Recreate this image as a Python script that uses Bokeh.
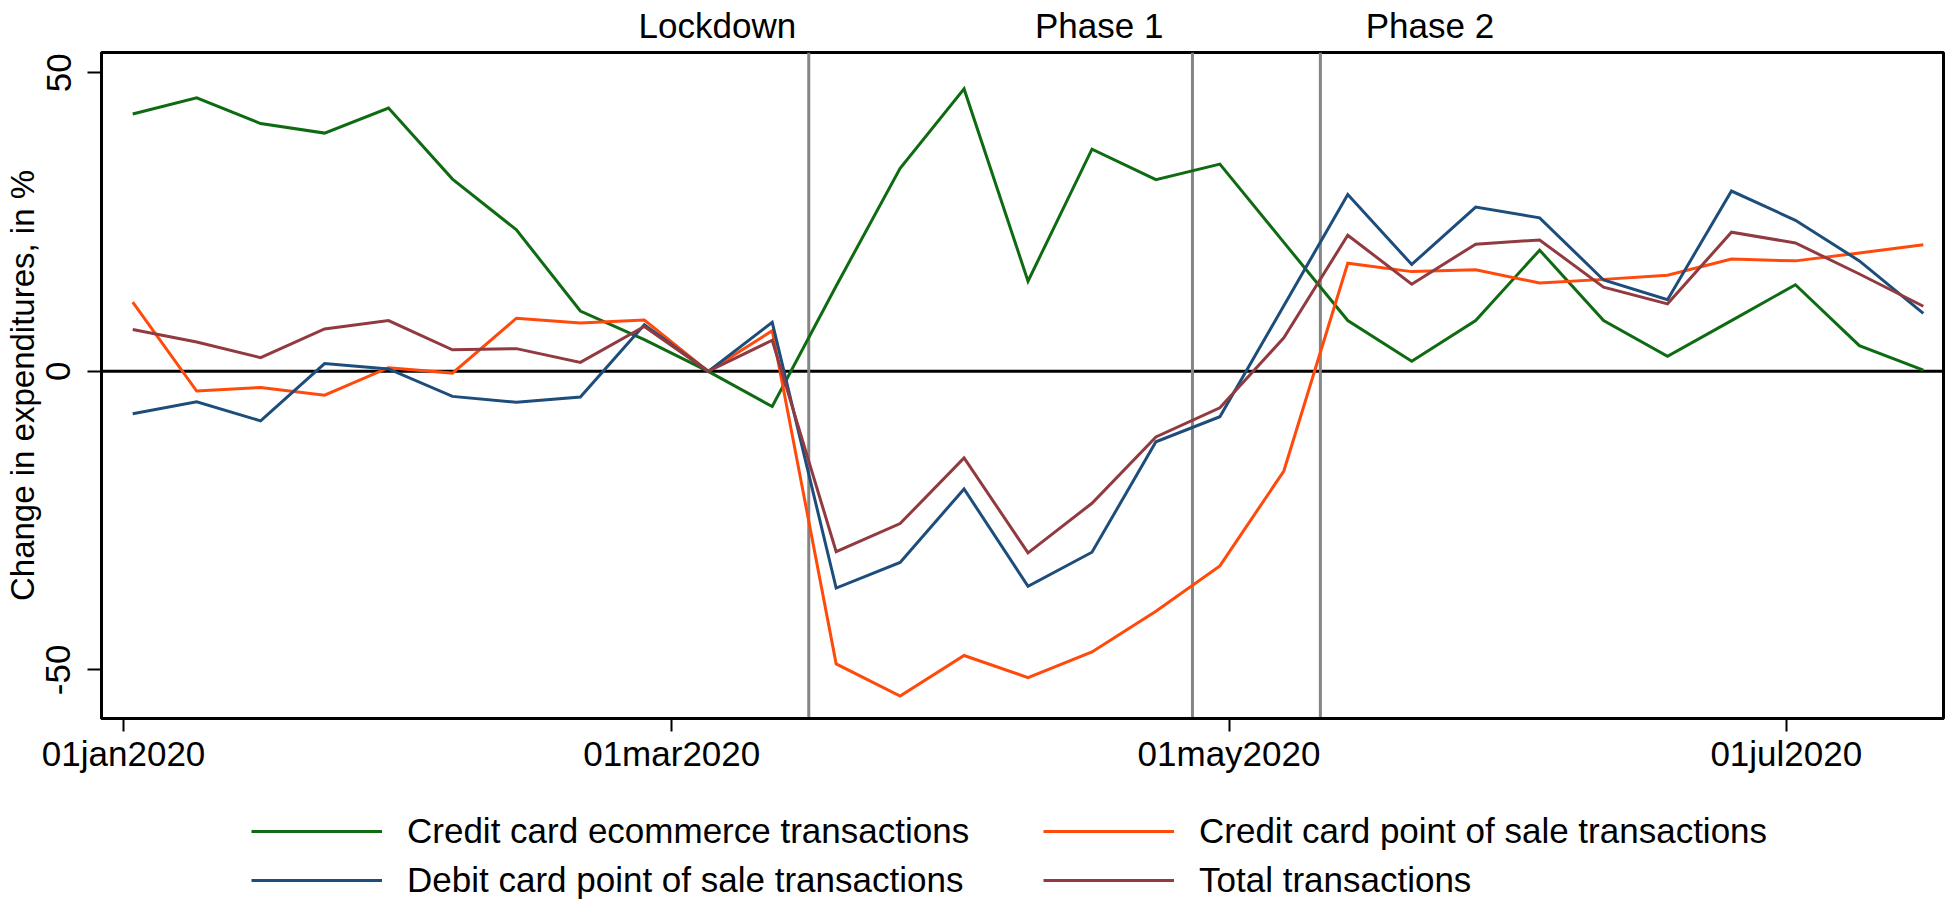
import pandas as pd
from bokeh.plotting import figure
from bokeh.layouts import column
from bokeh.models import (Span, Legend, LegendItem, FixedTicker,
                          CustomJSTickFormatter, Range1d)
from bokeh.core.properties import value
from bokeh.embed import file_html
from bokeh.resources import INLINE

# ---------------- data ----------------
dates = ["2020-01-02", "2020-01-09", "2020-01-16", "2020-01-23", "2020-01-30",
         "2020-02-06", "2020-02-13", "2020-02-20", "2020-02-27",
         "2020-03-05", "2020-03-12", "2020-03-19", "2020-03-26",
         "2020-04-02", "2020-04-09", "2020-04-16", "2020-04-23", "2020-04-30",
         "2020-05-07", "2020-05-14", "2020-05-21", "2020-05-28",
         "2020-06-04", "2020-06-11", "2020-06-18", "2020-06-25",
         "2020-07-02", "2020-07-09", "2020-07-16"]

credit_ecommerce = [43.1, 45.8, 41.5, 39.9, 44.1, 32.2, 23.7, 10.1, 5.3,
                    0.0, -5.9, 14.3, 34.0, 47.3, 15.1, 37.2, 32.1, 34.7,
                    21.6, 8.5, 1.7, 8.5, 20.3, 8.5, 2.5, 8.5, 14.5, 4.3, 0.2]

credit_pos = [11.6, -3.3, -2.7, -4.0, 0.6, -0.3, 8.9, 8.1, 8.6,
              0.0, 6.8, -49.0, -54.4, -47.6, -51.3, -47.0, -40.2, -32.6,
              -16.7, 18.1, 16.7, 17.0, 14.8, 15.4, 16.1, 18.8, 18.5, 19.8, 21.2]

debit_pos = [-7.1, -5.1, -8.3, 1.3, 0.4, -4.2, -5.2, -4.3, 7.8,
             0.0, 8.2, -36.3, -32.0, -19.7, -36.0, -30.3, -11.8, -7.6,
             11.0, 29.6, 17.9, 27.5, 25.7, 15.3, 12.0, 30.2, 25.3, 18.5, 9.7]

total = [7.0, 4.9, 2.3, 7.1, 8.5, 3.6, 3.8, 1.5, 7.5,
         0.0, 5.2, -30.2, -25.5, -14.5, -30.4, -22.1, -11.0, -6.1,
         5.6, 22.8, 14.6, 21.3, 22.0, 14.1, 11.3, 23.3, 21.5, 16.3, 10.9]

series_names = ["Credit card ecommerce transactions",
                "Credit card point of sale transactions",
                "Debit card point of sale transactions",
                "Total transactions"]

event_names = ["Lockdown", "Phase 1", "Phase 2"]
event_dates = ["2020-03-16", "2020-04-27", "2020-05-11"]

x_tick_dates = ["2020-01-01", "2020-03-01", "2020-05-01", "2020-07-01"]
x_tick_labels = ["01jan2020", "01mar2020", "01may2020", "01jul2020"]
y_tick_values = [-50, 0, 50]
y_tick_labels = ["-50", "0", "50"]

# ---------------- styling ----------------
FONT = "Liberation Sans"
FS = "35px"
colors = ["#0f6b12", "#ff4a0c", "#1d4e7b", "#913a40"]
series = [credit_ecommerce, credit_pos, debit_pos, total]


def ms(s):
    return pd.Timestamp(s).value // 10**6


x = pd.to_datetime(dates)
xr = Range1d(pd.Timestamp("2019-12-29 14:00"), pd.Timestamp("2020-07-18 05:00"))

# ---------------- main plot ----------------
p = figure(width=1946, height=725, x_axis_type="datetime",
           output_backend="svg", toolbar_location=None,
           x_range=xr, y_range=Range1d(-58.15, 53.4),
           min_border_left=96, min_border_right=3,
           min_border_top=2, min_border_bottom=55)

p.background_fill_color = "white"
p.border_fill_color = "white"
p.grid.visible = False
p.outline_line_color = "black"
p.outline_line_width = 3

p.add_layout(Span(location=0, dimension="width", line_color="black",
                  line_width=3, level="underlay"))
for d in event_dates:
    p.add_layout(Span(location=ms(d), dimension="height", line_color="#858585",
                      line_width=3, level="underlay"))

for vals, col in zip(series, colors):
    p.line(x, vals, line_color=col, line_width=3, line_join="miter")

xt = [ms(d) for d in x_tick_dates]
p.xaxis.ticker = FixedTicker(ticks=xt)
p.xaxis.formatter = CustomJSTickFormatter(args=dict(tvals=xt, tlabels=x_tick_labels), code="""
let best = 0;
for (let i = 0; i < tvals.length; i++) {
  if (Math.abs(tvals[i] - tick) < Math.abs(tvals[best] - tick)) best = i;
}
return tlabels[best];
""")
p.yaxis.ticker = FixedTicker(ticks=y_tick_values)
p.yaxis.major_label_overrides = {v: l for v, l in zip(y_tick_values, y_tick_labels)}
p.yaxis.major_label_orientation = "vertical"
p.yaxis.axis_label = "Change in expenditures, in %"

for ax in (p.xaxis[0], p.yaxis[0]):
    ax.axis_line_color = "black"
    ax.axis_line_width = 3
    ax.major_tick_line_color = "black"
    ax.major_tick_line_width = 2
    ax.major_tick_in = 0
    ax.minor_tick_line_color = None
    ax.major_label_text_font = FONT
    ax.major_label_text_font_size = FS
    ax.major_label_text_color = "black"
    ax.axis_label_text_font = FONT
    ax.axis_label_text_font_style = "normal"
    ax.axis_label_text_color = "black"

p.yaxis.axis_label_text_font_size = "33px"
p.xaxis.major_tick_out = 13
p.xaxis.major_label_standoff = 2
p.yaxis.major_tick_out = 14
p.yaxis.major_label_standoff = 17
p.yaxis.axis_label_standoff = 3

# ---------------- event labels strip above ----------------
top = figure(width=1946, height=50, x_axis_type="datetime",
             output_backend="svg", toolbar_location=None,
             x_range=xr, y_range=Range1d(0, 50),
             x_axis_location=None, y_axis_location=None,
             min_border_left=96, min_border_right=3,
             min_border_top=0, min_border_bottom=0)
top.grid.visible = False
top.outline_line_color = None
top.background_fill_color = "white"
top.border_fill_color = "white"
label_x = [pd.Timestamp("2020-03-06"), pd.Timestamp("2020-04-16 19:00"),
           pd.Timestamp("2020-05-23")]
top.text(x=label_x, y=[25, 25, 25], text=event_names,
         text_align="center", text_baseline="alphabetic",
         text_font=value(FONT), text_font_size=FS, text_color="black")

# ---------------- legend strip below ----------------
# the key lines carry the real series but lie outside this strip's (0..1) ranges,
# so only their legend swatches show
leg = figure(width=1946, height=125, output_backend="svg", toolbar_location=None,
             x_range=Range1d(0, 1), y_range=Range1d(0, 1),
             x_axis_location=None, y_axis_location=None,
             min_border_left=0, min_border_right=0,
             min_border_top=0, min_border_bottom=0)
leg.grid.visible = False
leg.outline_line_color = None
leg.background_fill_color = "white"
leg.border_fill_color = "white"
keys = [leg.line(x, vals, line_color=c, line_width=3) for vals, c in zip(series, colors)]

items = [LegendItem(label=series_names[0], renderers=[keys[0]]),
         LegendItem(label=series_names[2], renderers=[keys[2]]),
         LegendItem(label=series_names[1], renderers=[keys[1]]),
         LegendItem(label=series_names[3], renderers=[keys[3]])]
legend = Legend(items=items, location=(150, 0), ncols=2,
                label_width=627, label_height=40, glyph_width=131, glyph_height=40,
                label_standoff=25, spacing=9, padding=0, margin=0,
                border_line_color=None, background_fill_alpha=0,
                label_text_font=FONT, label_text_font_size=FS,
                label_text_color="black")
leg.add_layout(legend)

layout = column(top, p, leg, spacing=0)
open("out.html", "w").write(file_html(layout, INLINE))
